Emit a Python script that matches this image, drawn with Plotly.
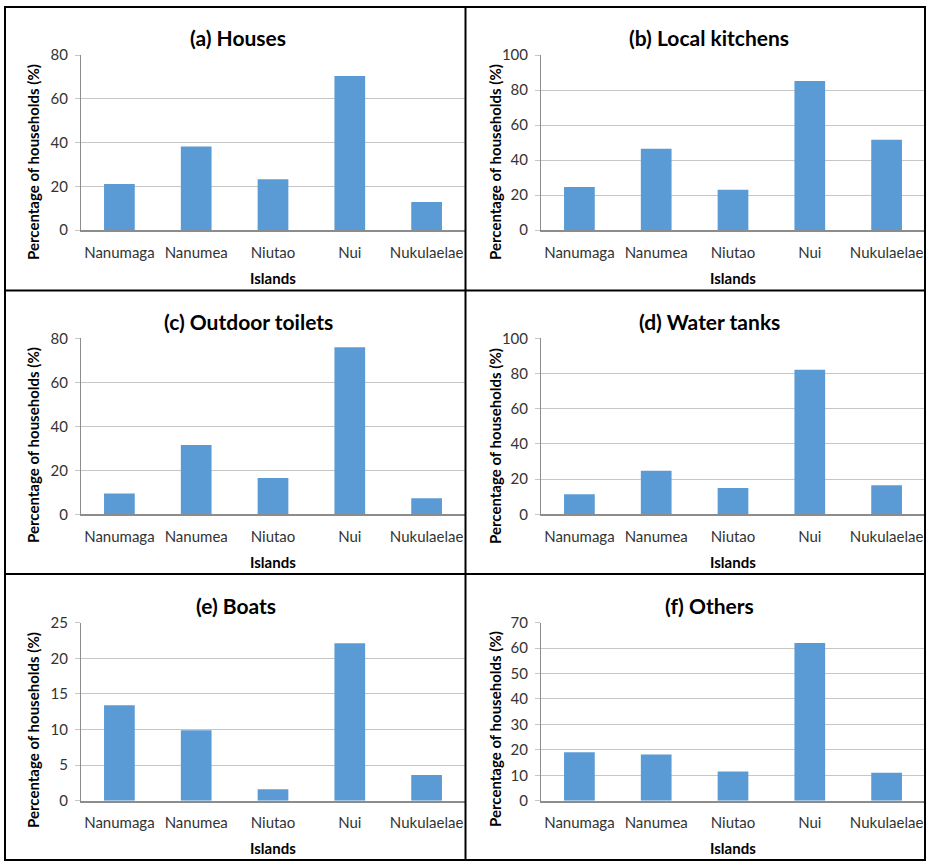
import plotly.graph_objects as go

W, H = 927, 862

islands = ["Nanumaga", "Nanumea", "Niutao", "Nui", "Nukulaelae"]

houses = [21.0, 38.2, 23.2, 70.4, 12.8]
kitchens = [24.6, 46.5, 23.0, 85.1, 51.6]
toilets = [9.5, 31.5, 16.5, 75.9, 7.3]
tanks = [11.4, 24.8, 15.0, 82.2, 16.5]
boats = [13.4, 9.9, 1.6, 22.1, 3.6]
others = [19.1, 18.2, 11.5, 62.0, 11.0]

titles = ["(a) Houses", "(b) Local kitchens", "(c) Outdoor toilets",
          "(d) Water tanks", "(e) Boats", "(f) Others"]
series = [houses, kitchens, toilets, tanks, boats, others]
y_max = [80, 100, 80, 100, 25, 70]
y_step = [20, 20, 20, 20, 5, 10]

BAR = "#5B9BD5"
GRID = "#C6C6C6"
AXIS = "#8C8C8C"
FONT = "Lato"


def px_x(x):
    return x / W


def px_y(y):
    return 1 - y / H


# plot-area pixel boxes per panel: (left, right, top, bottom)
col_x = [(81, 465), (541, 925)]
row_y = [(55, 230), (338.3, 514.3), (622.7, 800.7)]
# title / axis-title centres per panel
title_pos = [(238, 38), (709, 38), (248, 321), (709, 321), (236, 605), (709, 605)]
ytitle_pos = [(33, 162), (495, 162), (33, 445), (495, 446), (33, 730), (495, 729)]
xtitle_y = [278, 278, 562, 562, 848, 848]

fig = go.Figure()
annotations = []

for i, (vals, title) in enumerate(zip(series, titles)):
    r, c = divmod(i, 2)
    x0, x1 = col_x[c]
    y0, y1 = row_y[r]
    n = i + 1
    xa = "x" if n == 1 else f"x{n}"
    ya = "y" if n == 1 else f"y{n}"
    fig.add_trace(go.Bar(x=islands, y=vals, xaxis=xa, yaxis=ya,
                         marker=dict(color=BAR, line=dict(width=0)),
                         showlegend=False))
    xkey = "xaxis" if n == 1 else f"xaxis{n}"
    ykey = "yaxis" if n == 1 else f"yaxis{n}"
    fig.layout[xkey] = dict(
        domain=[px_x(x0), px_x(x1)], anchor=ya, automargin=False,
        range=[-0.5, 4.5], showgrid=False, zeroline=False,
        showline=True, linecolor=AXIS, linewidth=1.5,
        ticks="", tickfont=dict(family=FONT, size=15, color="#333333"),
        ticklabelstandoff=8, fixedrange=True)
    fig.layout[ykey] = dict(
        domain=[px_y(y1), px_y(y0)], anchor=xa, automargin=False,
        range=[0, y_max[i]], dtick=y_step[i], tick0=0,
        showgrid=True, gridcolor=GRID, gridwidth=1,
        zeroline=False, showline=True, linecolor=AXIS, linewidth=1,
        ticks="outside", ticklen=5, tickcolor=GRID,
        tickfont=dict(family=FONT, size=15, color="#333333"),
        ticklabelstandoff=4, fixedrange=True)

    tx, ty = title_pos[i]
    annotations.append(dict(text=f"<b>{title}</b>", x=px_x(tx), y=px_y(ty),
                            xref="paper", yref="paper", xanchor="center",
                            yanchor="middle", showarrow=False,
                            font=dict(family=FONT, size=21, color="#000000")))
    vx, vy = ytitle_pos[i]
    annotations.append(dict(text="<b>Percentage of households (%)</b>",
                            x=px_x(vx), y=px_y(vy), xref="paper", yref="paper",
                            xanchor="center", yanchor="middle", textangle=-90,
                            showarrow=False,
                            font=dict(family=FONT, size=15, color="#000000")))
    annotations.append(dict(text="<b>Islands</b>", x=px_x((x0 + x1) / 2),
                            y=px_y(xtitle_y[i]), xref="paper", yref="paper",
                            xanchor="center", yanchor="middle", showarrow=False,
                            font=dict(family=FONT, size=15, color="#000000")))

# panel frame: outer box plus dividers
shapes = [
    dict(type="rect", xref="paper", yref="paper",
         x0=px_x(5), x1=px_x(925), y0=px_y(860), y1=px_y(7),
         line=dict(color="#000000", width=2)),
    dict(type="line", xref="paper", yref="paper",
         x0=px_x(465.5), x1=px_x(465.5), y0=px_y(860), y1=px_y(7),
         line=dict(color="#000000", width=2)),
    dict(type="line", xref="paper", yref="paper",
         x0=px_x(5), x1=px_x(925), y0=px_y(290.5), y1=px_y(290.5),
         line=dict(color="#000000", width=2)),
    dict(type="line", xref="paper", yref="paper",
         x0=px_x(5), x1=px_x(925), y0=px_y(574), y1=px_y(574),
         line=dict(color="#000000", width=2)),
]

fig.update_layout(
    width=W, height=H,
    margin=dict(l=0, r=0, t=0, b=0, autoexpand=False),
    paper_bgcolor="#FFFFFF", plot_bgcolor="#FFFFFF",
    bargap=0.6,
    annotations=annotations,
    shapes=shapes,
    font=dict(family=FONT),
)

fig.write_html("out.html", config={"displayModeBar": False})
